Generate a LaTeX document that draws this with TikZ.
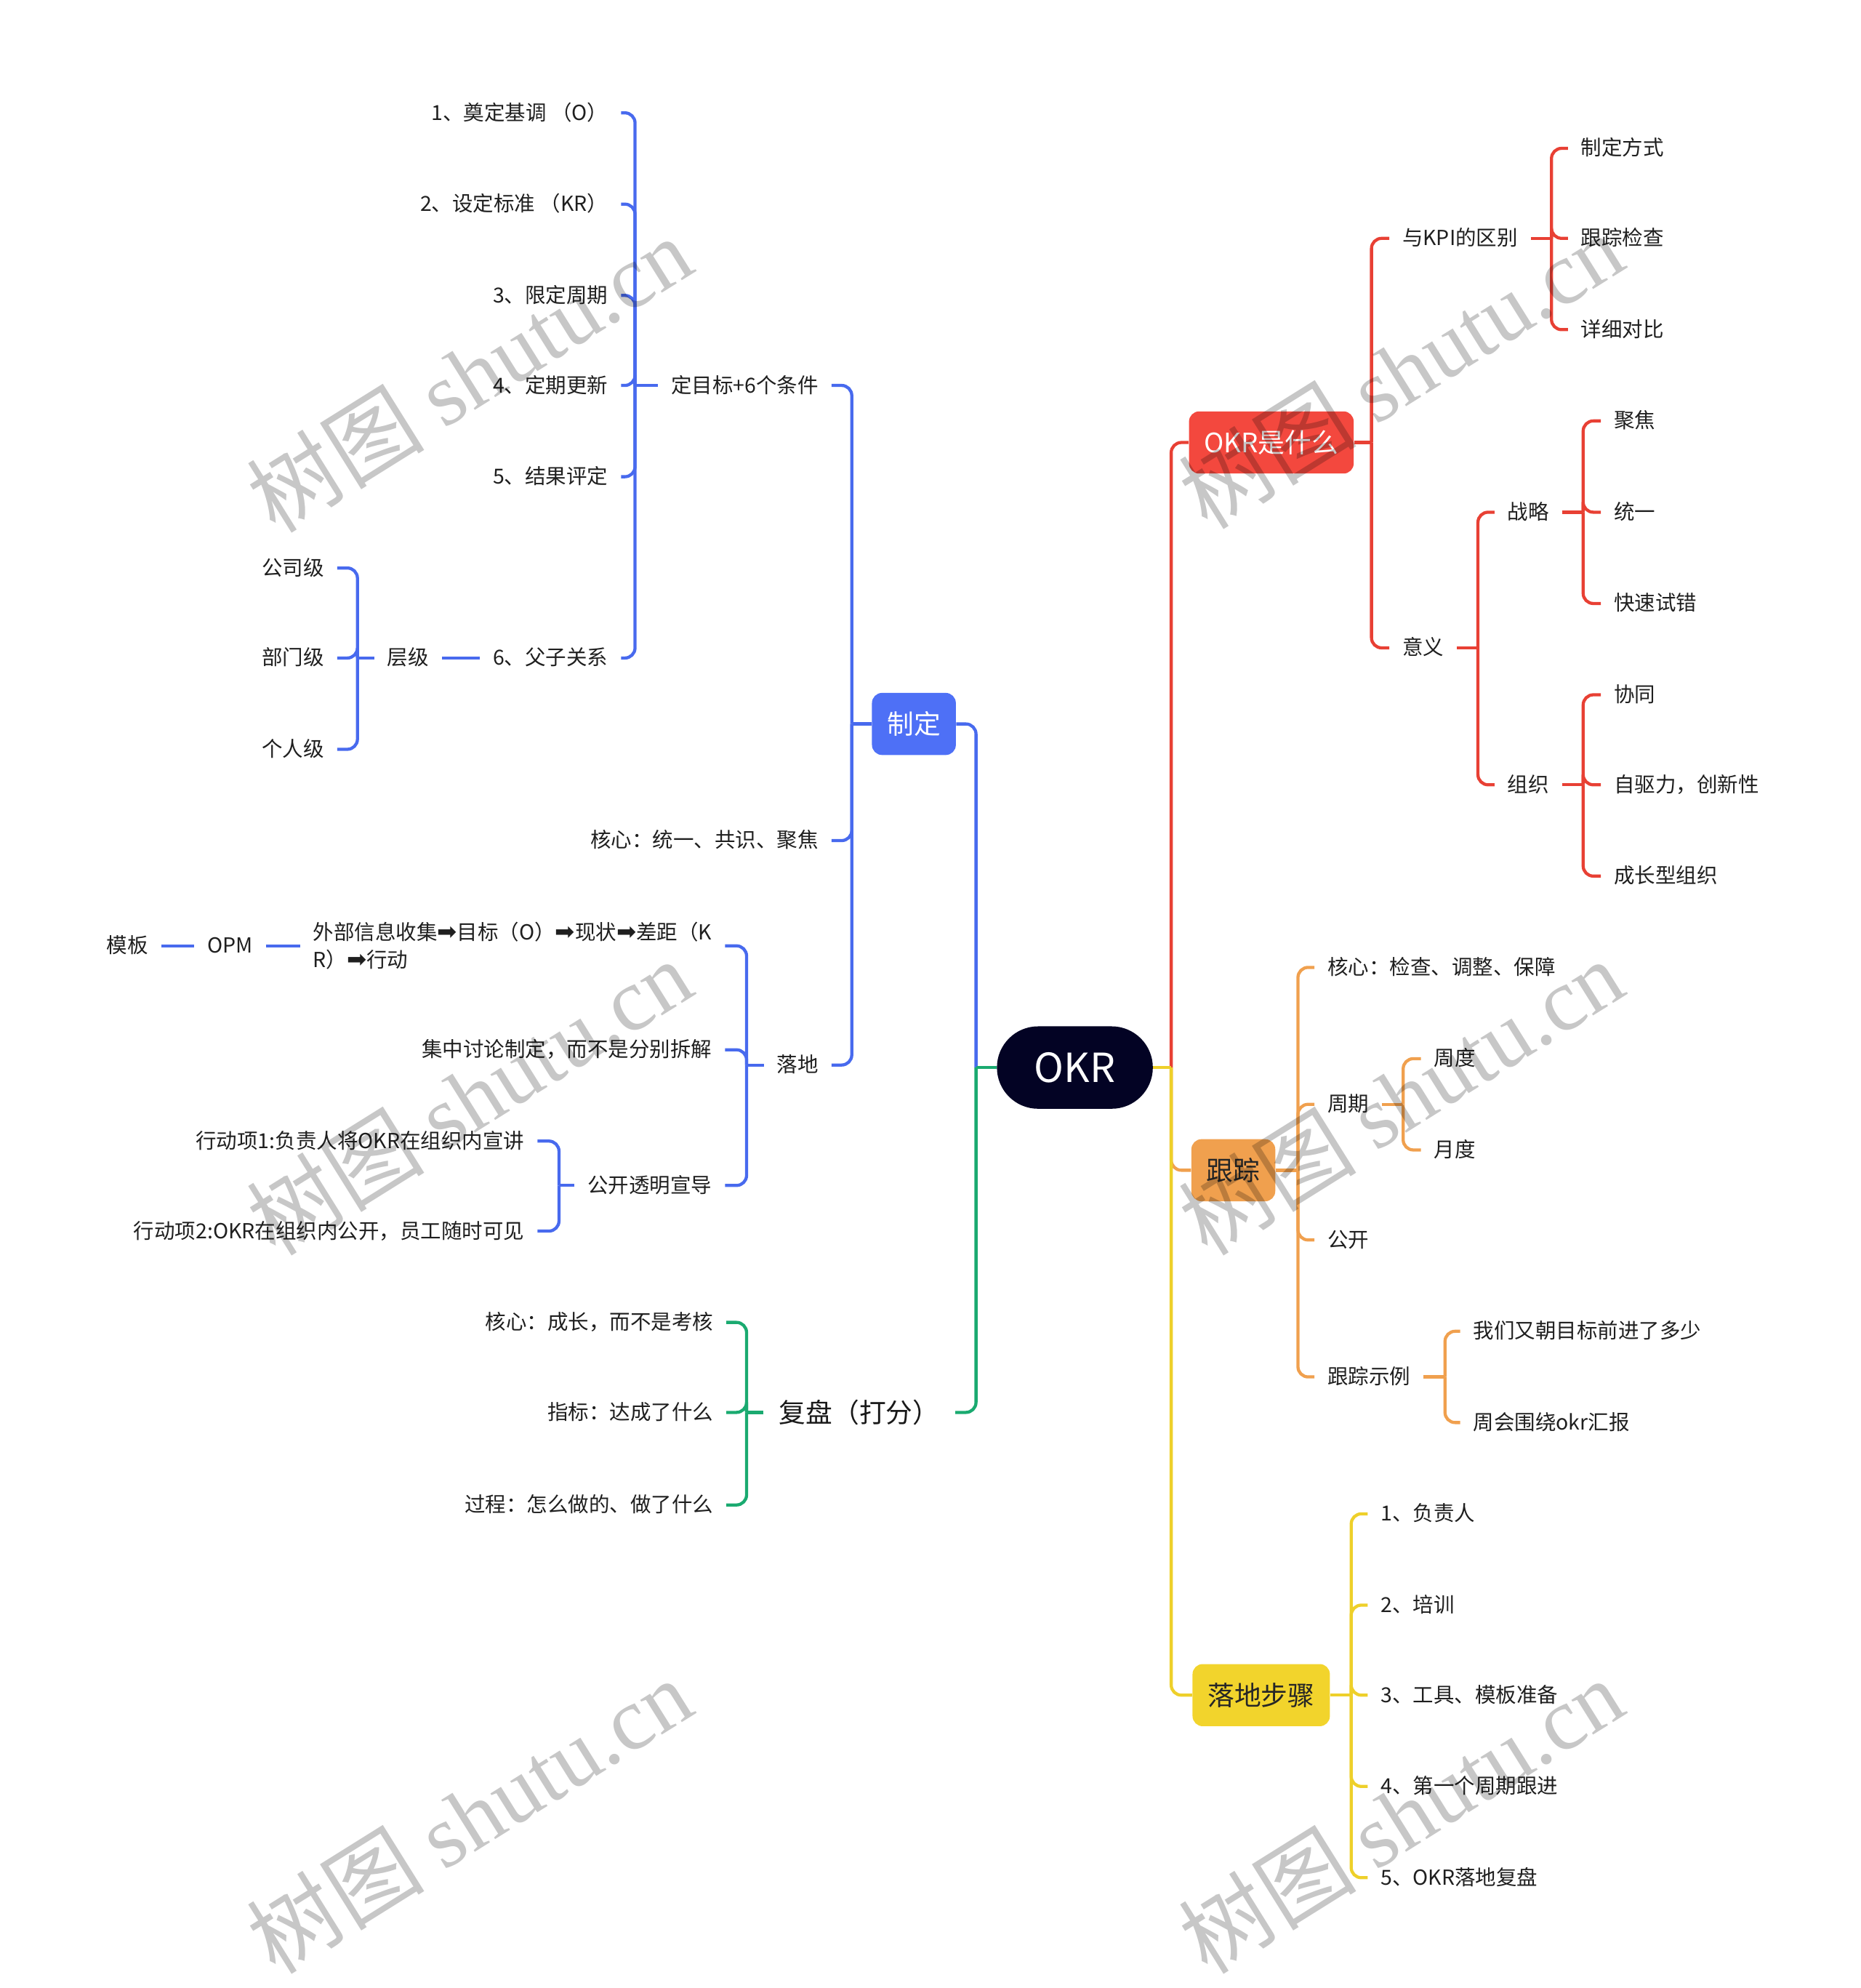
\documentclass[tikz,border=0pt]{standalone}
\usepackage{fontspec}
\setmainfont{Noto Sans CJK SC}
\newfontfamily\symfont{DejaVu Sans}
\newfontfamily\wmserif{Liberation Serif}
\usetikzlibrary{positioning}
\definecolor{okrblue}{RGB}{72,106,238}
\definecolor{okrbluebox}{RGB}{78,112,246}
\definecolor{okrred}{RGB}{232,64,52}
\definecolor{okrredbox}{RGB}{243,72,62}
\definecolor{okrorange}{RGB}{240,160,78}
\definecolor{okryellow}{RGB}{238,208,42}
\definecolor{okryellowbox}{RGB}{242,212,44}
\definecolor{okrgreen}{RGB}{26,170,112}
\definecolor{okrroot}{RGB}{3,3,36}

\begin{document}
\begin{tikzpicture}[x=0.2mm,y=-0.2mm]
	\tikzset{leaf/.style={inner xsep=2mm, inner ysep=0.6mm, text height=0.8em, text depth=0.15em, font=\fontsize{9.3}{12.5}\selectfont, text=black!88},
		flowtext/.style={inner xsep=2mm, inner ysep=0.6mm, align=left, font=\fontsize{9.3}{12.5}\selectfont, text=black!88},
		topic/.style={rounded corners=1.6mm, minimum height=9.8mm, inner xsep=2.4mm, font=\fontsize{12}{14}\selectfont},
		rootbox/.style={fill=okrroot, text=white, rounded corners=6.5mm, minimum width=24.6mm, minimum height=13mm, font=\fontsize{18}{20}\selectfont},
		link/.style={line width=1.4pt, rounded corners=1.6mm},
		wmark/.style={rotate=32, text=black, text opacity=0.22, font=\fontsize{40}{40}\selectfont}
	}
	\useasboundingbox (0,0) rectangle (1468,1568);
	% root
	\node [rootbox] (okr) at (848,842) {OKR};
	\coordinate (jokrl) at (770,842);
	\coordinate (jokrr) at (924,842);
	% OKR是什么
	\node [topic, fill=okrredbox, text=white] (what) at (1003,349) {OKR是什么};
	\coordinate (jwhat) at (1082,349);
	\node [leaf, anchor=west] (kpi) at (1096,188) {与KPI的区别};
	\node [leaf, anchor=west] (meaning) at (1096,511) {意义};
	\coordinate (jkpi) at (1224,188);
	\node [leaf, anchor=west] (kpiway) at (1237,117) {制定方式};
	\node [leaf, anchor=west] (kpicheck) at (1237,188) {跟踪检查};
	\node [leaf, anchor=west] (kpicmp) at (1237,260) {详细对比};
	\coordinate (jmeaning) at (1166,511);
	\node [leaf, anchor=west] (strategy) at (1179,404) {战略};
	\node [leaf, anchor=west] (org) at (1179,619) {组织};
	\coordinate (jstrategy) at (1249,404);
	\node [leaf, anchor=west] (focus) at (1263,332) {聚焦};
	\node [leaf, anchor=west] (unify) at (1263,404) {统一};
	\node [leaf, anchor=west] (trial) at (1263,476) {快速试错};
	\coordinate (jorg) at (1249,619);
	\node [leaf, anchor=west] (collab) at (1263,548) {协同};
	\node [leaf, anchor=west] (drive) at (1263,619) {自驱力，创新性};
	\node [leaf, anchor=west] (growth) at (1263,691) {成长型组织};
	% 跟踪
	\node [topic, fill=okrorange, text=black!85] (track) at (973,923) {跟踪};
	\coordinate (jtrack) at (1024,923);
	\node [leaf, anchor=west] (trcore) at (1037,763) {核心：检查、调整、保障};
	\node [leaf, anchor=west] (cycle) at (1037,871) {周期};
	\node [leaf, anchor=west] (open) at (1037,978) {公开};
	\node [leaf, anchor=west] (example) at (1037,1086) {跟踪示例};
	\coordinate (jcycle) at (1107,871);
	\node [leaf, anchor=west] (weekly) at (1121,835) {周度};
	\node [leaf, anchor=west] (monthly) at (1121,907) {月度};
	\coordinate (jexample) at (1140,1086);
	\node [leaf, anchor=west] (ex1) at (1152,1050) {我们又朝目标前进了多少};
	\node [leaf, anchor=west] (ex2) at (1152,1122) {周会围绕okr汇报};
	% 落地步骤
	\node [topic, fill=okryellowbox, text=black!85] (steps) at (995,1337) {落地步骤};
	\coordinate (jsteps) at (1066,1337);
	\node [leaf, anchor=west] (st1) at (1079,1194) {1、负责人};
	\node [leaf, anchor=west] (st2) at (1079,1266) {2、培训};
	\node [leaf, anchor=west] (st3) at (1079,1337) {3、工具、模板准备};
	\node [leaf, anchor=west] (st4) at (1079,1409) {4、第一个周期跟进};
	\node [leaf, anchor=west] (st5) at (1079,1481) {5、OKR落地复盘};
	% 制定
	\node [topic, fill=okrbluebox, text=white] (make) at (721,571) {制定};
	\coordinate (jmake) at (672,571);
	\node [leaf, anchor=east] (goal) at (656,304) {定目标+6个条件};
	\node [leaf, anchor=east] (mkcore) at (656,663) {核心：统一、共识、聚焦};
	\node [leaf, anchor=east] (land) at (656,840) {落地};
	\coordinate (jgoal) at (501,304);
	\node [leaf, anchor=east] (c1) at (490,89) {1、奠定基调 （O）};
	\node [leaf, anchor=east] (c2) at (490,161) {2、设定标准 （KR）};
	\node [leaf, anchor=east] (c3) at (490,233) {3、限定周期};
	\node [leaf, anchor=east] (c4) at (490,304) {4、定期更新};
	\node [leaf, anchor=east] (c5) at (490,376) {5、结果评定};
	\node [leaf, anchor=east] (c6) at (490,519) {6、父子关系};
	\node [leaf, left = 6mm of c6] (level) {层级};
	\coordinate (jlevel) at (282,519);
	\node [leaf, anchor=east] (lv1) at (266,448) {公司级};
	\node [leaf, anchor=east] (lv2) at (266,519) {部门级};
	\node [leaf, anchor=east] (lv3) at (266,591) {个人级};
	\coordinate (jland) at (589,840);
	\node [flowtext, anchor=east] (flow) at (572,746) {外部信息收集{\symfont\fontsize{10.6}{12.5}\selectfont ➡}目标（O）{\symfont\fontsize{10.6}{12.5}\selectfont ➡}现状{\symfont\fontsize{10.6}{12.5}\selectfont ➡}差距（K\\R）{\symfont\fontsize{10.6}{12.5}\selectfont ➡}行动};
	\node [leaf, left = 5.4mm of flow] (opm) {OPM};
	\node [leaf, left = 5.2mm of opm] (tpl) {模板};
	\node [leaf, anchor=east] (discuss) at (572,828) {集中讨论制定，而不是分别拆解};
	\node [leaf, anchor=east] (publicize) at (572,935) {公开透明宣导};
	\coordinate (jpublicize) at (441,935);
	\node [leaf, anchor=east] (act1) at (424,900) {行动项1:负责人将OKR在组织内宣讲};
	\node [leaf, anchor=east] (act2) at (424,971) {行动项2:OKR在组织内公开，员工随时可见};
	% 复盘
	\node [topic, text=black!90] (review) at (678,1114) {复盘（打分）};
	\coordinate (jreview) at (589,1114);
	\node [leaf, anchor=east] (rv1) at (573,1043) {核心：成长，而不是考核};
	\node [leaf, anchor=east] (rv2) at (573,1114) {指标：达成了什么};
	\node [leaf, anchor=east] (rv3) at (573,1187) {过程：怎么做的、做了什么};

	% connectors right
	\draw [link, okrred] (jokrr) |- (what.west);
	\draw [link, okrorange] (jokrr) |- (track.west);
	\draw [link, okryellow] (jokrr) |- (steps.west);
	\draw [link, okryellow] (okr.east) -- (jokrr);
	\draw [link, okrred] (what.east) -- (jwhat);
	\foreach \ch in {kpi,meaning} \draw [link, okrred] (jwhat) |- (\ch.west);
	\draw [link, okrred] (kpi.east) -- (jkpi);
	\foreach \ch in {kpiway,kpicheck,kpicmp} \draw [link, okrred] (jkpi) |- (\ch.west);
	\draw [link, okrred] (meaning.east) -- (jmeaning);
	\foreach \ch in {strategy,org} \draw [link, okrred] (jmeaning) |- (\ch.west);
	\draw [link, okrred] (strategy.east) -- (jstrategy);
	\foreach \ch in {focus,unify,trial} \draw [link, okrred] (jstrategy) |- (\ch.west);
	\draw [link, okrred] (org.east) -- (jorg);
	\foreach \ch in {collab,drive,growth} \draw [link, okrred] (jorg) |- (\ch.west);
	\draw [link, okrorange] (track.east) -- (jtrack);
	\foreach \ch in {trcore,cycle,open,example} \draw [link, okrorange] (jtrack) |- (\ch.west);
	\draw [link, okrorange] (cycle.east) -- (jcycle);
	\foreach \ch in {weekly,monthly} \draw [link, okrorange] (jcycle) |- (\ch.west);
	\draw [link, okrorange] (example.east) -- (jexample);
	\foreach \ch in {ex1,ex2} \draw [link, okrorange] (jexample) |- (\ch.west);
	\draw [link, okryellow] (steps.east) -- (jsteps);
	\foreach \ch in {st1,st2,st3,st4,st5} \draw [link, okryellow] (jsteps) |- (\ch.west);
	% connectors left
	\draw [link, okrblue] (jokrl) |- (make.east);
	\draw [link, okrgreen] (jokrl) |- (review.east);
	\draw [link, okrgreen] (okr.west) -- (jokrl);
	\draw [link, okrblue] (make.west) -- (jmake);
	\foreach \ch in {goal,mkcore,land} \draw [link, okrblue] (jmake) |- (\ch.east);
	\draw [link, okrblue] (goal.west) -- (jgoal);
	\foreach \ch in {c1,c2,c3,c4,c5,c6} \draw [link, okrblue] (jgoal) |- (\ch.east);
	\draw [link, okrblue] (c6.west) -- (level.east);
	\draw [link, okrblue] (level.west) -- (jlevel);
	\foreach \ch in {lv1,lv2,lv3} \draw [link, okrblue] (jlevel) |- (\ch.east);
	\draw [link, okrblue] (land.west) -- (jland);
	\foreach \ch in {flow,discuss,publicize} \draw [link, okrblue] (jland) |- (\ch.east);
	\draw [link, okrblue] (opm.east) -- (flow.west);
	\draw [link, okrblue] (tpl.east) -- (opm.west);
	\draw [link, okrblue] (publicize.west) -- (jpublicize);
	\foreach \ch in {act1,act2} \draw [link, okrblue] (jpublicize) |- (\ch.east);
	\draw [link, okrgreen] (review.west) -- (jreview);
	\foreach \ch in {rv1,rv2,rv3} \draw [link, okrgreen] (jreview) |- (\ch.east);

	% watermarks
	\foreach \wx/\wy [count=\i] in {370/295, 1105/292, 370/865, 1105/865, 370/1432, 1105/1432}
		\node [wmark] (wm\i) at (\wx,\wy) {树图 \wmserif shutu.cn};
\end{tikzpicture}
\end{document}
